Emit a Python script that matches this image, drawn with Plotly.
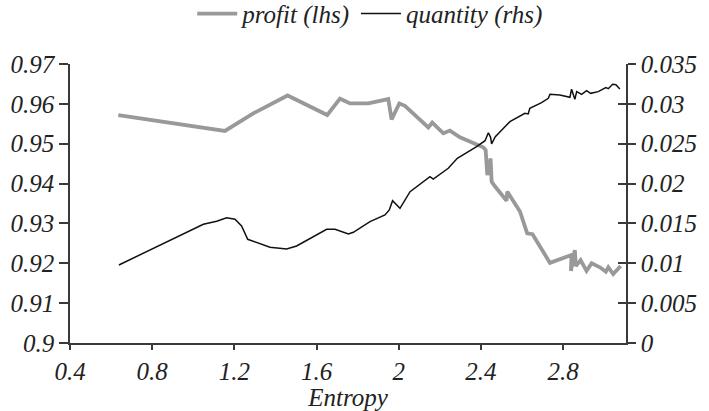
import plotly.graph_objects as go

profit_x = [0.635, 1.154, 1.292, 1.459, 1.652, 1.714, 1.763, 1.852, 1.949, 1.965, 2.003, 2.030,
            2.144, 2.163, 2.217, 2.249, 2.298, 2.411, 2.423, 2.431, 2.447, 2.452, 2.470, 2.525,
            2.528, 2.590, 2.625, 2.651, 2.736, 2.841, 2.838, 2.857, 2.862, 2.885, 2.914, 2.939,
            2.979, 3.008, 3.020, 3.044, 3.080]
profit_y = [0.9572, 0.9532, 0.9576, 0.9621, 0.9572, 0.9613, 0.9601, 0.9601, 0.9612, 0.9561, 0.9601, 0.9595,
            0.9541, 0.9553, 0.9526, 0.9533, 0.9516, 0.9491, 0.9484, 0.9421, 0.9463, 0.9405, 0.9392, 0.9357,
            0.9380, 0.9330, 0.9275, 0.9273, 0.9201, 0.9221, 0.9181, 0.9233, 0.9193, 0.9208, 0.9181, 0.9200,
            0.9190, 0.9179, 0.9190, 0.9173, 0.9193]

quantity_x = [0.638, 1.049, 1.114, 1.162, 1.203, 1.235, 1.265, 1.373, 1.454, 1.503, 1.649, 1.690,
              1.755, 1.779, 1.860, 1.909, 1.933, 1.954, 1.970, 2.006, 2.055, 2.152, 2.168, 2.241,
              2.285, 2.379, 2.420, 2.436, 2.447, 2.452, 2.470, 2.525, 2.541, 2.614, 2.630, 2.638,
              2.695, 2.728, 2.736, 2.784, 2.833, 2.841, 2.857, 2.866, 2.890, 2.914, 2.934, 2.971,
              3.008, 3.020, 3.041, 3.057, 3.076]
quantity_y = [0.00979, 0.01489, 0.01527, 0.01572, 0.01552, 0.01468, 0.01301, 0.01201, 0.01180, 0.01217, 0.01426, 0.01426,
              0.01368, 0.01389, 0.01522, 0.01577, 0.01606, 0.01669, 0.01786, 0.01690, 0.01898, 0.02086, 0.02057, 0.02192,
              0.02317, 0.02463, 0.02538, 0.02638, 0.02580, 0.02497, 0.02588, 0.02735, 0.02776, 0.02881, 0.02873, 0.02944,
              0.03015, 0.03070, 0.03120, 0.03111, 0.03082, 0.03183, 0.03057, 0.03153, 0.03120, 0.03165, 0.03132, 0.03153,
              0.03203, 0.03190, 0.03245, 0.03240, 0.03186]

x_ticks = [0.4, 0.8, 1.2, 1.6, 2.0, 2.4, 2.8]
x_labels = ["0.4", "0.8", "1.2", "1.6", "2", "2.4", "2.8"]
left_ticks = [0.9, 0.91, 0.92, 0.93, 0.94, 0.95, 0.96, 0.97]
left_labels = ["0.9", "0.91", "0.92", "0.93", "0.94", "0.95", "0.96", "0.97"]
right_ticks = [0, 0.005, 0.01, 0.015, 0.02, 0.025, 0.03, 0.035]
right_labels = ["0", "0.005", "0.01", "0.015", "0.02", "0.025", "0.03", "0.035"]

FONT = dict(family="Liberation Serif, Times New Roman, serif", size=25, color="#222222",
            style="italic")
AX = "#3a3a3a"

fig = go.Figure()
fig.add_trace(go.Scatter(x=profit_x, y=profit_y, mode="lines", name="profit (lhs)",
                         line=dict(color="#999999", width=3.8), yaxis="y"))
fig.add_trace(go.Scatter(x=quantity_x, y=quantity_y, mode="lines", name="quantity (rhs)",
                         line=dict(color="#111111", width=1.5), yaxis="y2"))
fig.add_trace(go.Scatter(x=[None], y=[None], yaxis="y3", showlegend=False, hoverinfo="skip"))

fig.update_layout(
    width=709, height=411,
    margin=dict(l=70, r=83, t=64, b=68, autoexpand=False),
    paper_bgcolor="white", plot_bgcolor="white",
    font=FONT,
    showlegend=True,
    legend=dict(orientation="h", x=0.54, xanchor="center", y=1.18, yanchor="middle",
                font=FONT, itemwidth=40, tracegroupgap=0, bgcolor="rgba(0,0,0,0)"),
    xaxis=dict(range=[0.4, 3.106], tickvals=x_ticks, ticktext=x_labels, ticks="outside",
               ticklen=5, tickwidth=1.5, tickcolor=AX, showline=True, linecolor=AX, linewidth=1.5,
               showgrid=False, zeroline=False, automargin=False,
               title=dict(text="Entropy", font=FONT, standoff=6), tickfont=FONT),
    yaxis=dict(range=[0.9, 0.97], tickvals=left_ticks, ticktext=left_labels, ticks="outside",
               ticklen=9, tickwidth=1.5, tickcolor=AX, showline=True, linecolor=AX, linewidth=1.5,
               showgrid=False, zeroline=False, tickfont=FONT, automargin=False),
    yaxis2=dict(range=[0, 0.035], tickvals=right_ticks, ticktext=right_labels, overlaying="y",
                side="right", ticks="outside", ticklen=8, tickwidth=1.5, tickcolor=AX,
                showline=True, linecolor=AX, linewidth=1.5, showgrid=False, zeroline=False,
                tickfont=FONT, automargin=False),
    yaxis3=dict(range=[0, 0.035], tickvals=right_ticks, overlaying="y", side="right",
                anchor="x", ticks="inside", ticklen=8, tickwidth=1.5, tickcolor=AX,
                showticklabels=False, showline=False, showgrid=False, zeroline=False,
                automargin=False),
)

post = """
var gd = document.getElementById('{plot_id}');
function ital() {
  gd.querySelectorAll('text').forEach(function (t) { t.style.fontStyle = 'italic'; });
}
ital(); setTimeout(ital, 50); setTimeout(ital, 300);
"""
fig.write_html("out.html", post_script=post)
